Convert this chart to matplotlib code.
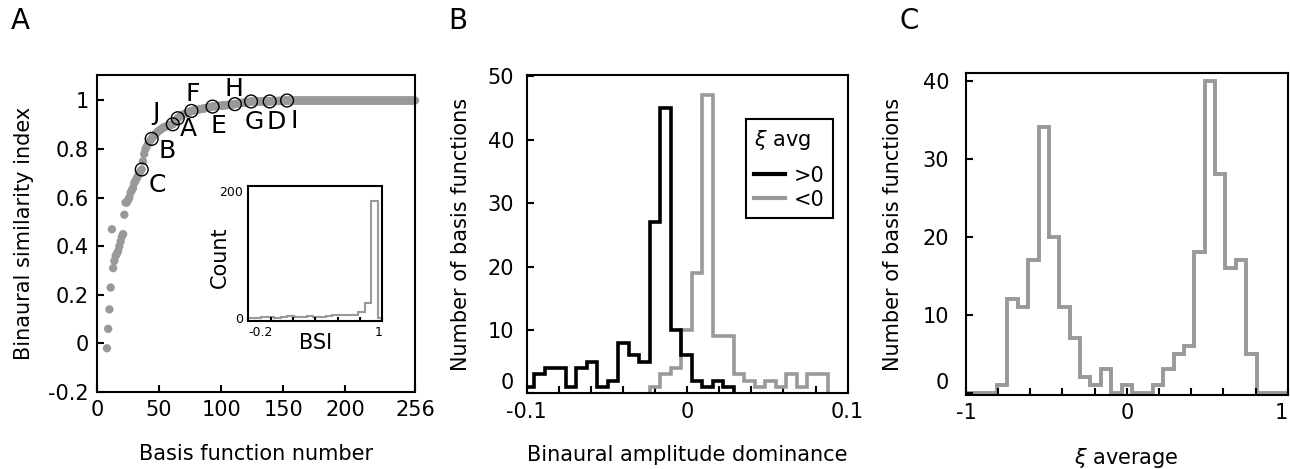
import numpy as np
import matplotlib
matplotlib.use('Agg')
import matplotlib.pyplot as plt

plt.rcParams['font.family'] = 'DejaVu Sans'
plt.rcParams['mathtext.fontset'] = 'dejavusans'
plt.rcParams['axes.unicode_minus'] = False

GRAY = '#999999'

# ---- panel A: binaural similarity index of each basis function
basis_start = 8
bsi_rise = [-0.02, 0.06, 0.14, 0.23, 0.47, 0.31, 0.34, 0.36, 0.37, 0.38,
            0.40, 0.42, 0.44, 0.45, 0.53, 0.58, 0.58, 0.59, 0.60, 0.62,
            0.63, 0.64, 0.66, 0.67, 0.68, 0.69, 0.70, 0.71, 0.716]
bsi_knee = [0.75, 0.78, 0.80, 0.81, 0.82, 0.83, 0.836, 0.842,
            0.85, 0.856, 0.862, 0.867, 0.872, 0.876, 0.88, 0.884, 0.887,
            0.89, 0.892, 0.894, 0.896, 0.898, 0.899, 0.90, 0.902,
            0.908, 0.914, 0.92, 0.927, 0.931, 0.935, 0.938, 0.941, 0.944,
            0.946, 0.948, 0.95, 0.952, 0.955, 0.957,
            0.958, 0.959, 0.96, 0.961, 0.962, 0.963, 0.964, 0.965, 0.966,
            0.967, 0.968, 0.969, 0.97, 0.971, 0.972, 0.974, 0.975]
bsi_plateau = [0.976, 0.976, 0.977, 0.977, 0.978, 0.978, 0.979, 0.979, 0.98, 0.98,
               0.981, 0.981, 0.982, 0.982, 0.983, 0.984, 0.984, 0.985,
               0.986, 0.987, 0.988, 0.989, 0.99, 0.99, 0.991, 0.992, 0.993,
               0.994, 0.994, 0.995, 0.996,
               0.996, 0.996, 0.996, 0.996, 0.996, 0.996, 0.996, 0.996, 0.996, 0.996,
               0.996, 0.996, 0.996, 0.996, 0.996,
               0.997, 0.997, 0.997, 0.998, 0.998, 0.998, 0.998, 0.999, 0.999, 0.999,
               0.999, 1.0, 1.0, 1.0,
               1.0, 1.0, 1.0, 1.0, 1.0, 1.0, 1.0, 1.0, 1.0, 1.0,
               1.0, 1.0, 1.0, 1.0, 1.0, 1.0, 1.0, 1.0, 1.0, 1.0,
               1.0, 1.0, 1.0, 1.0, 1.0, 1.0, 1.0, 1.0, 1.0, 1.0,
               1.0, 1.0, 1.0, 1.0, 1.0, 1.0, 1.0, 1.0, 1.0, 1.0,
               1.0, 1.0, 1.0, 1.0, 1.0, 1.0, 1.0, 1.0, 1.0, 1.0,
               1.0, 1.0, 1.0, 1.0, 1.0, 1.0, 1.0, 1.0, 1.0, 1.0,
               1.0, 1.0, 1.0, 1.0, 1.0, 1.0, 1.0, 1.0, 1.0, 1.0,
               1.0, 1.0, 1.0, 1.0, 1.0, 1.0, 1.0, 1.0, 1.0, 1.0,
               1.0, 1.0, 1.0, 1.0, 1.0, 1.0, 1.0, 1.0, 1.0, 1.0,
               1.0, 1.0, 1.0, 1.0, 1.0, 1.0, 1.0, 1.0, 1.0, 1.0,
               1.0, 1.0, 1.0]
marked_letters = ['C', 'B', 'J', 'A', 'F', 'E', 'H', 'G', 'D', 'I']
marked_numbers = [36, 44, 61, 65, 76, 93, 111, 124, 139, 153]

# inset: histogram of BSI
inset_counts = [0, 0, 2, 2, 0, 2, 3, 2, 2, 3, 2, 2, 3, 5, 5, 5, 5, 10, 24, 185, 0]
inset_range = (-0.2, 1.0159)

# ---- panel B: binaural amplitude dominance, split by sign of xi average
ad_bin_start = -0.1017
ad_bin_width = 0.00654
ad_pos_first_bin = 0
ad_pos_counts = [1, 3, 4, 4, 1, 4, 5, 1, 2, 8, 6, 5, 27, 45, 10, 6, 2, 1, 2, 1]
ad_neg_first_bin = 12
ad_neg_counts = [1, 3, 4, 10, 19, 47, 9, 9, 3, 2, 1, 2, 1, 3, 1, 3, 3]

# ---- panel C: xi average
xi_range = (-1.0, 1.0)
xi_counts = [0, 0, 0, 1, 12, 11, 17, 34, 20, 11, 7, 2, 1, 3, 0, 1, 0, 0,
             1, 3, 5, 6, 18, 40, 28, 16, 17, 5, 0, 0, 0]


def style_axes(ax, lw=1.5, size=15):
    for s in ax.spines.values():
        s.set_linewidth(lw)
    ax.tick_params(which='both', direction='in', length=5, width=lw,
                   labelsize=size, top=False, right=False, pad=6)


fig = plt.figure(figsize=(12.9, 4.69), dpi=100)

# ---------------- A
axA = fig.add_axes([0.0752, 0.1642, 0.2465, 0.6759])
bsi = np.array(bsi_rise + bsi_knee + bsi_plateau)
basis_number = np.arange(basis_start, basis_start + len(bsi))
axA.scatter(basis_number, bsi, s=36, color=GRAY, edgecolors='none', zorder=2,
            clip_on=False)
mk_x = np.array(marked_numbers)
mk_y = bsi[mk_x - basis_start]
axA.scatter(mk_x, mk_y, s=85, facecolors='none', edgecolors='black',
            linewidths=1.0, zorder=3)
label_offsets = {'C': (11, -11), 'B': (11, -9), 'J': (-12, 8), 'A': (8, -8),
                 'F': (1, 12), 'E': (4, -14), 'H': (-1, 11), 'G': (2, -15),
                 'D': (5, -15), 'I': (5.5, -15)}
for letter, xv, yv in zip(marked_letters, mk_x, mk_y):
    axA.annotate(letter, (xv, yv), xytext=label_offsets[letter],
                 textcoords='offset points', ha='center', va='center',
                 fontsize=18, zorder=4)
axA.set_xlim(0, 256)
axA.set_ylim(-0.2, 1.105)
axA.set_xticks([0, 50, 100, 150, 200, 256])
axA.set_yticks([-0.2, 0, 0.2, 0.4, 0.6, 0.8, 1])
axA.set_yticklabels(['-0.2', '0', '0.2', '0.4', '0.6', '0.8', '1'])
style_axes(axA)
axA.set_xlabel('Basis function number', fontsize=15, labelpad=17)
axA.set_ylabel('Binaural similarity index', fontsize=15, labelpad=10)

# inset
axI = fig.add_axes([0.1925, 0.3162, 0.1039, 0.2872])
inset_edges = np.linspace(inset_range[0], inset_range[1], len(inset_counts) + 1)
axI.stairs(inset_counts, inset_edges, baseline=0, color=GRAY, lw=1.5)
axI.set_xlim(-0.2, 1.0)
axI.set_ylim(-3.7, 207.9)
for s in axI.spines.values():
    s.set_linewidth(1.5)
axI.set_xticks([-0.2, 1.0])
axI.set_xticklabels(['-0.2', '1'])
axI.set_xticks([0, 0.2, 0.4, 0.6, 0.8], minor=True)
axI.set_yticks([0, 200])
axI.tick_params(axis='x', which='both', direction='in', length=3, width=1.5,
                labelsize=9, pad=4)
axI.tick_params(axis='y', length=0, labelsize=9, pad=4)
lbls = axI.get_xticklabels()
lbls[0].set_ha('left')
lbls[-1].set_ha('right')
axI.text(-0.21, 0.47, 'Count', rotation=90, ha='center', va='center',
         fontsize=15, transform=axI.transAxes)
axI.text(0.5, -0.166, 'BSI', ha='center', va='center', fontsize=15,
         transform=axI.transAxes)

# ---------------- B
axB = fig.add_axes([0.4083, 0.161, 0.2488, 0.679])
n_bins_b = max(ad_pos_first_bin + len(ad_pos_counts), ad_neg_first_bin + len(ad_neg_counts))
ad_edges = ad_bin_start + ad_bin_width * np.arange(n_bins_b + 1)
axB.stairs(ad_pos_counts,
           ad_edges[ad_pos_first_bin:ad_pos_first_bin + len(ad_pos_counts) + 1],
           baseline=0, color='black', lw=2.6, label='>0', zorder=3)
axB.stairs(ad_neg_counts,
           ad_edges[ad_neg_first_bin:ad_neg_first_bin + len(ad_neg_counts) + 1],
           baseline=0, color=GRAY, lw=2.6, label='<0', zorder=2)
axB.set_xlim(-0.1, 0.1)
axB.set_ylim(0, 50.2)
axB.set_xticks([-0.1, 0, 0.1])
axB.set_xticklabels(['-0.1', '0', '0.1'])
axB.set_xticks(np.arange(-0.08, 0.081, 0.02), minor=True)
axB.set_yticks([0, 10, 20, 30, 40, 50])
style_axes(axB)
axB.tick_params(axis='y', pad=9)
axB.get_yticklabels()[0].set_va('bottom')
axB.set_xlabel('Binaural amplitude dominance', fontsize=15, labelpad=17)
axB.set_ylabel('Number of basis functions', fontsize=15, labelpad=12)
leg = axB.legend(title=r'$\xi$ avg', loc='upper right',
                 bbox_to_anchor=(0.953, 0.861), borderaxespad=0,
                 fontsize=15, title_fontsize=15, frameon=True, fancybox=False,
                 framealpha=1, edgecolor='black', handlelength=1.5,
                 handletextpad=0.4, alignment='left', labelspacing=0.2,
                 borderpad=0.4)
leg.get_frame().set_linewidth(1.5)
leg._legend_box.sep = 10
for h in leg.get_lines():
    h.set_linewidth(3)

# ---------------- C
axC = fig.add_axes([0.7488, 0.1578, 0.2494, 0.686])
xi_edges = np.linspace(xi_range[0], xi_range[1], len(xi_counts) + 1)
axC.stairs(xi_counts, xi_edges, baseline=0, color=GRAY, lw=2.8)
axC.set_xlim(-1, 1)
axC.set_ylim(-0.3, 40.95)
axC.set_xticks([-1, 0, 1])
axC.set_xticklabels(['-1', '0', '1'])
axC.set_xticks(np.arange(-0.8, 0.81, 0.2), minor=True)
axC.set_yticks([0, 10, 20, 30, 40])
style_axes(axC)
axC.tick_params(axis='y', pad=12)
axC.get_yticklabels()[0].set_va('bottom')
axC.get_xticklabels()[-1].set_ha('right')
axC.set_xlabel(r'$\xi$ average', fontsize=15, labelpad=16)
axC.set_ylabel('Number of basis functions', fontsize=15, labelpad=14)

for letter, xf in zip(['A', 'B', 'C'], [0.0155, 0.355, 0.7047]):
    fig.text(xf, 0.955, letter, fontsize=20, ha='center', va='center')

fig.savefig('out.png', dpi=100)
